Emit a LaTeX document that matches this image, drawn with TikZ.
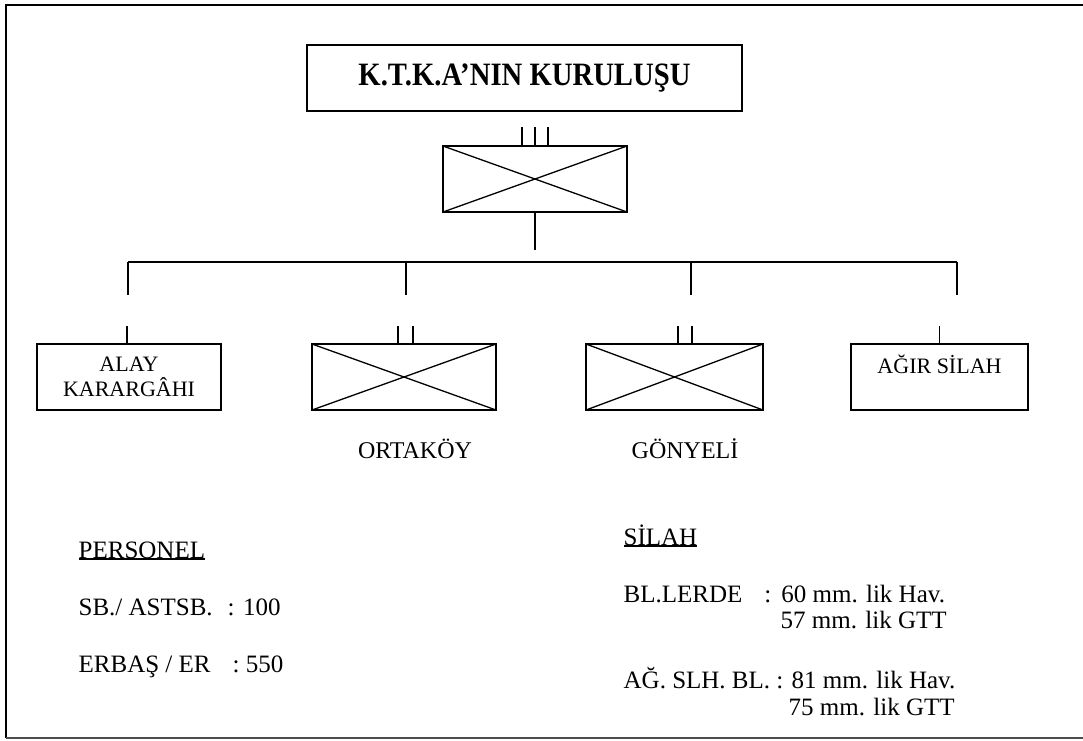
\documentclass[tikz,border=0pt]{standalone}
\usepackage{fontspec}
\setmainfont{Liberation Serif}
\usetikzlibrary{positioning}
\newcommand\ulbox[1]{\setbox0\hbox{#1}\rlap{\rule[-1.8pt]{\wd0}{1.6pt}}\box0}

\begin{document}
\begin{tikzpicture}[x=1pt,y=-1pt,line width=1.3pt,
		plain box/.style={rectangle,draw,minimum height=66pt,inner sep=0pt,align=center,font=\fontsize{22}{25}\selectfont},
		unit box/.style={plain box,path picture={\draw (path picture bounding box.north west) -- (path picture bounding box.south east) (path picture bounding box.south west) -- (path picture bounding box.north east);}},
		label text/.style={anchor=base,inner sep=0pt,font=\fontsize{24}{28}\selectfont},
		info text/.style={anchor=base west,inner sep=0pt,font=\fontsize{25}{30}\selectfont}]
		
		\useasboundingbox (0,0) rectangle (1083,740);
		\draw[line width=2pt] (1090,5) -- (6,5) -- (6,738);
		\draw[line width=1.5pt,black!70] (6,738) -- (1090,738);
		
		\node[plain box,minimum width=435pt] (title) at (524.5,78) {\scalebox{0.88}[1]{\bfseries\fontsize{32.6}{36}\selectfont K.T.K.A’NIN KURULUŞU}};
		\node[unit box,minimum width=184pt] (regt) at (535,179) {};
		
		\node[plain box,minimum width=184pt] (hq) at (129,377) {ALAY\\KARARGÂHI};
		\node[unit box,minimum width=184pt] (ort) at (404,377) {};
		\node[unit box,minimum width=177pt] (gon) at (674.5,377) {};
		\node[plain box,minimum width=177pt] (agir) at (939.5,377) {AĞIR SİLAH\\~};
		
		\node[label text] (ortlbl) at (415,458) {ORTAKÖY};
		\node[label text] (gonlbl) at (685,458) {GÖNYELİ};
		
		% echelon marks
		\draw ([xshift=-13pt]regt.north) -- ++(0,-18) (regt.north) -- ++(0,-18) ([xshift=13pt]regt.north) -- ++(0,-18);
		\draw ([xshift=-2pt]hq.north) -- ++(0,-17);
		\draw ([xshift=-6pt]ort.north) -- ++(0,-17) ([xshift=9pt]ort.north) -- ++(0,-17);
		\draw ([xshift=3.5pt]gon.north) -- ++(0,-17) ([xshift=17.5pt]gon.north) -- ++(0,-17);
		\draw (agir.north) -- ++(0,-17);
		
		\draw (regt.south) -- ++(0,37);
		\foreach \x [count=\i] in {128,406,691,957} {
			\coordinate (drop\i) at (\x,262);
			\draw (drop\i) -- ++(0,33);
		}
		\draw (drop1) -- (drop4);
		
		\node[info text] (pers) at (78,558) {\ulbox{PERSONEL}};
		\node[info text] (sb) at (78,615) {SB./ ASTSB.\hspace{15pt}: 100};
		\node[info text] (erb) at (78,672) {ERBAŞ / ER\hspace{22pt}: 550};
		
		\node[info text] (silah) at (623,545) {\ulbox{SİLAH}};
		\node[info text] (bl) at (623,602) {BL.LERDE\hspace{22pt}:\hspace{10pt}60 mm. lik Hav.};
		\node[info text] (bl2) at (780,628) {57 mm. lik GTT};
		\node[info text] (agbl) at (623,688) {AĞ. SLH. BL. : 81 mm. lik Hav.};
		\node[info text] (agbl2) at (788,715) {75 mm. lik GTT};
\end{tikzpicture}
\end{document}
